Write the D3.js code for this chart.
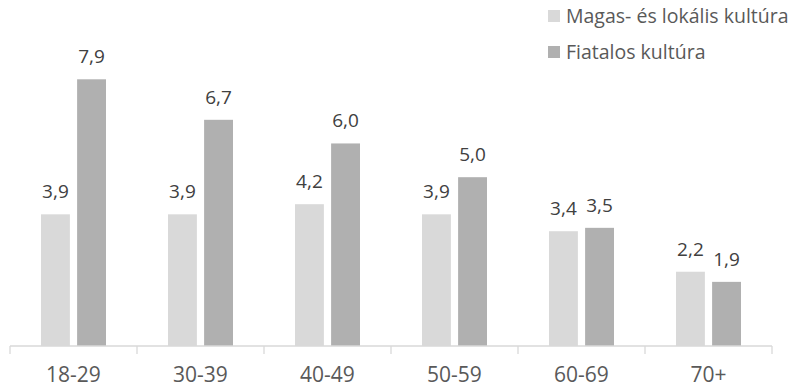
<!DOCTYPE html>
<html>
<head>
<meta charset="utf-8">
<script src="https://cdn.jsdelivr.net/npm/d3@7"></script>
<style>
  body { margin: 0; background: #fff; }
  text { font-family: "Open Sans", sans-serif; }
</style>
</head>
<body>
<div id="chart"></div>
<script>
// age groups and the two series
const categories = ["18-29", "30-39", "40-49", "50-59", "60-69", "70+"];
const seriesNames = ["Magas- és lokális kultúra", "Fiatalos kultúra"];
const highLocal = [3.9, 3.9, 4.2, 3.9, 3.4, 2.2];
const youth = [7.9, 6.7, 6.0, 5.0, 3.5, 1.9];
const colors = ["#d9d9d9", "#b0b0b0"];

const width = 795, height = 388;
const svg = d3.select("#chart").append("svg")
    .attr("width", width)
    .attr("height", height);

let x = d3.scaleBand().domain(categories).range([10, 772]);
let xSub = d3.scaleBand().domain(seriesNames).range([31, 96]).paddingInner(0.2);
let y = d3.scaleLinear().domain([0, 10]).range([346, 8.4]);

let rows = [];
categories.forEach((c, i) => {
    rows.push({cat: c, name: seriesNames[0], value: highLocal[i], k: 0});
    rows.push({cat: c, name: seriesNames[1], value: youth[i], k: 1});
});

// bars
svg.append("g").selectAll("rect")
    .data(rows)
    .join("rect")
    .attr("x", d => x(d.cat) + xSub(d.name))
    .attr("y", d => y(d.value))
    .attr("width", xSub.bandwidth())
    .attr("height", d => y(0) - y(d.value))
    .attr("fill", d => colors[d.k]);

// value labels
svg.append("g").selectAll("text")
    .data(rows)
    .join("text")
    .attr("x", d => x(d.cat) + xSub(d.name) + xSub.bandwidth() / 2)
    .attr("y", d => y(d.value) - 16)
    .attr("text-anchor", "middle")
    .attr("font-size", 19)
    .attr("fill", "#404040")
    .text(d => d3.format(".1f")(d.value).replace(".", ","));

// x axis with ticks on band edges
let axis = svg.append("g").attr("transform", "translate(0,346)");
axis.append("line")
    .attr("x1", x.range()[0]).attr("x2", x.range()[1])
    .attr("stroke", "#d9d9d9").attr("stroke-width", 1.3);
let edges = categories.map(c => x(c)).concat([x.range()[1]]);
axis.selectAll(".tick")
    .data(edges)
    .join("line")
    .attr("x1", d => d).attr("x2", d => d)
    .attr("y1", 0).attr("y2", 8)
    .attr("stroke", "#d9d9d9").attr("stroke-width", 1.3);
axis.selectAll(".lbl")
    .data(categories)
    .join("text")
    .attr("x", d => x(d) + x.bandwidth() / 2)
    .attr("y", 36)
    .attr("text-anchor", "middle")
    .attr("font-size", 21)
    .attr("fill", "#595959")
    .text(d => d);

// legend
let legend = svg.append("g").attr("transform", "translate(548,0)");
seriesNames.forEach((n, i) => {
    let g = legend.append("g").attr("transform", `translate(0,${10 + i * 36})`);
    g.append("rect").attr("width", 12).attr("height", 12).attr("fill", colors[i]);
    g.append("text").attr("x", 18).attr("y", 13).attr("font-size", 19.5)
        .attr("fill", "#595959").text(n);
});
</script>
</body>
</html>
